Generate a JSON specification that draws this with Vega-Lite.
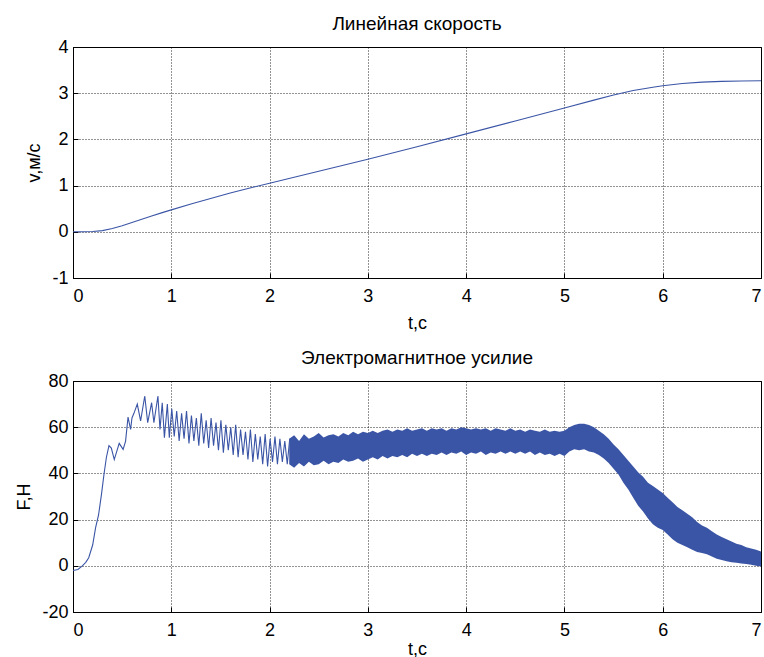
{
  "$schema": "https://vega.github.io/schema/vega-lite/v6.json",
  "padding": {"left": 15, "top": 14, "right": 0, "bottom": 0},
  "background": "white",
  "spacing": 103,
  "bounds": "flush",
  "config": {
    "font": "Liberation Sans",
    "view": {"stroke": "#000", "strokeWidth": 1},
    "axis": {
      "domainColor": "#000",
      "tickColor": "#000",
      "tickSize": -5,
      "labelColor": "#000",
      "labelFontSize": 18,
      "labelFont": "Liberation Sans",
      "titleFont": "Liberation Sans",
      "titleFontSize": 18,
      "titleFontWeight": "normal",
      "titleColor": "#000",
      "gridColor": "#000",
      "gridDash": [1, 2],
      "gridOpacity": 0.85,
      "labelExpr": "'' + datum.value"
    },
    "axisX": {"labelPadding": 14},
    "axisY": {"labelPadding": 10, "titlePadding": 8},
    "title": {"font": "Liberation Sans", "fontSize": 19, "fontWeight": "normal", "color": "#000", "offset": 4, "frame": "group"}
  },
  "datasets": {
    "v": [
      {"t": 0, "v": 0}, {"t": 0.1, "v": 0}, {"t": 0.2, "v": 0.005}, {"t": 0.3, "v": 0.025},
      {"t": 0.4, "v": 0.07}, {"t": 0.5, "v": 0.13}, {"t": 0.6, "v": 0.2}, {"t": 0.7, "v": 0.27},
      {"t": 0.8, "v": 0.34}, {"t": 0.9, "v": 0.41}, {"t": 1.0, "v": 0.475}, {"t": 1.2, "v": 0.6},
      {"t": 1.4, "v": 0.72}, {"t": 1.6, "v": 0.84}, {"t": 1.8, "v": 0.95}, {"t": 2.0, "v": 1.05},
      {"t": 2.5, "v": 1.31}, {"t": 3.0, "v": 1.57}, {"t": 3.5, "v": 1.84}, {"t": 4.0, "v": 2.12},
      {"t": 4.5, "v": 2.4}, {"t": 5.0, "v": 2.68}, {"t": 5.3, "v": 2.85}, {"t": 5.5, "v": 2.96},
      {"t": 5.7, "v": 3.06}, {"t": 5.9, "v": 3.13}, {"t": 6.0, "v": 3.16}, {"t": 6.2, "v": 3.21},
      {"t": 6.4, "v": 3.24}, {"t": 6.6, "v": 3.255}, {"t": 6.8, "v": 3.265}, {"t": 7.0, "v": 3.27}
    ],
    "f": [
      {"t": 0, "f": -2}, {"t": 0.05, "f": -1.6}, {"t": 0.095, "f": 0}, {"t": 0.13, "f": 1.5},
      {"t": 0.16, "f": 3.5}, {"t": 0.2, "f": 9}, {"t": 0.23, "f": 16.5}, {"t": 0.26, "f": 22},
      {"t": 0.29, "f": 31}, {"t": 0.315, "f": 39.5}, {"t": 0.34, "f": 47}, {"t": 0.366, "f": 52},
      {"t": 0.39, "f": 51}, {"t": 0.42, "f": 46}, {"t": 0.47, "f": 53}, {"t": 0.51, "f": 50.4},
      {"t": 0.535, "f": 54}, {"t": 0.56, "f": 64.4}, {"t": 0.586, "f": 59}, {"t": 0.6, "f": 64},
      {"t": 0.62, "f": 66}, {"t": 0.654, "f": 70}, {"t": 0.688, "f": 62.7}, {"t": 0.73, "f": 73.5},
      {"t": 0.76, "f": 62}, {"t": 0.8, "f": 70.6}, {"t": 0.823, "f": 62}, {"t": 0.864, "f": 73.5},
      {"t": 0.885, "f": 59}, {"t": 0.908, "f": 70.6}, {"t": 0.93, "f": 55.5}, {"t": 0.96, "f": 70},
      {"t": 0.98, "f": 55.5}, {"t": 1.005, "f": 68}, {"t": 1.03, "f": 56}, {"t": 1.055, "f": 67},
      {"t": 1.08, "f": 54}, {"t": 1.105, "f": 66}, {"t": 1.13, "f": 55}, {"t": 1.155, "f": 67},
      {"t": 1.18, "f": 53}, {"t": 1.205, "f": 65}, {"t": 1.23, "f": 54}, {"t": 1.255, "f": 64},
      {"t": 1.28, "f": 52}, {"t": 1.305, "f": 66}, {"t": 1.33, "f": 53}, {"t": 1.355, "f": 63},
      {"t": 1.38, "f": 51}, {"t": 1.405, "f": 64}, {"t": 1.43, "f": 52}, {"t": 1.455, "f": 62},
      {"t": 1.48, "f": 50}, {"t": 1.505, "f": 63}, {"t": 1.53, "f": 49}, {"t": 1.555, "f": 61},
      {"t": 1.58, "f": 50}, {"t": 1.605, "f": 60}, {"t": 1.63, "f": 48}, {"t": 1.655, "f": 61},
      {"t": 1.68, "f": 47}, {"t": 1.705, "f": 59}, {"t": 1.73, "f": 48}, {"t": 1.755, "f": 58},
      {"t": 1.78, "f": 46}, {"t": 1.805, "f": 59}, {"t": 1.83, "f": 45}, {"t": 1.855, "f": 57},
      {"t": 1.88, "f": 46}, {"t": 1.905, "f": 56}, {"t": 1.93, "f": 44}, {"t": 1.955, "f": 57},
      {"t": 1.98, "f": 43}, {"t": 2.005, "f": 55}, {"t": 2.03, "f": 45}, {"t": 2.055, "f": 56},
      {"t": 2.08, "f": 44}, {"t": 2.105, "f": 55}, {"t": 2.13, "f": 45}, {"t": 2.155, "f": 54},
      {"t": 2.18, "f": 44}, {"t": 2.205, "f": 55}
    ],
    "band": [
      {"t": 2.2, "lo": 44, "hi": 55}, {"t": 2.25, "lo": 42.5, "hi": 56.5}, {"t": 2.3, "lo": 44.5, "hi": 54},
      {"t": 2.35, "lo": 43, "hi": 57}, {"t": 2.4, "lo": 45, "hi": 55}, {"t": 2.45, "lo": 43.5, "hi": 56},
      {"t": 2.5, "lo": 44, "hi": 57.5}, {"t": 2.55, "lo": 45.5, "hi": 55.5}, {"t": 2.6, "lo": 44, "hi": 56.5},
      {"t": 2.65, "lo": 45, "hi": 57}, {"t": 2.7, "lo": 44.5, "hi": 56}, {"t": 2.75, "lo": 46, "hi": 57.5},
      {"t": 2.8, "lo": 45, "hi": 56.5}, {"t": 2.85, "lo": 45.5, "hi": 58}, {"t": 2.9, "lo": 46.5, "hi": 57},
      {"t": 2.95, "lo": 45, "hi": 58}, {"t": 3.0, "lo": 46, "hi": 57.5}, {"t": 3.05, "lo": 47, "hi": 58.5},
      {"t": 3.1, "lo": 46, "hi": 57.5}, {"t": 3.15, "lo": 47.5, "hi": 58.5}, {"t": 3.2, "lo": 46.5, "hi": 59},
      {"t": 3.25, "lo": 47.5, "hi": 58}, {"t": 3.3, "lo": 47, "hi": 59}, {"t": 3.35, "lo": 48, "hi": 58.5},
      {"t": 3.4, "lo": 47, "hi": 59.5}, {"t": 3.45, "lo": 48.5, "hi": 58.5}, {"t": 3.5, "lo": 47.5, "hi": 59},
      {"t": 3.55, "lo": 48.5, "hi": 59.5}, {"t": 3.6, "lo": 47.5, "hi": 58.5}, {"t": 3.65, "lo": 48.5, "hi": 59.5},
      {"t": 3.7, "lo": 48, "hi": 59}, {"t": 3.75, "lo": 49, "hi": 59.5}, {"t": 3.8, "lo": 48, "hi": 58.5},
      {"t": 3.85, "lo": 49, "hi": 59.5}, {"t": 3.9, "lo": 48.5, "hi": 59}, {"t": 3.95, "lo": 49.5, "hi": 60},
      {"t": 4.0, "lo": 48, "hi": 59.5}, {"t": 4.05, "lo": 49, "hi": 59}, {"t": 4.1, "lo": 48.5, "hi": 59.5},
      {"t": 4.15, "lo": 49.5, "hi": 59}, {"t": 4.2, "lo": 48, "hi": 59.5}, {"t": 4.25, "lo": 49, "hi": 58.5},
      {"t": 4.3, "lo": 48.5, "hi": 59.5}, {"t": 4.35, "lo": 49.5, "hi": 59}, {"t": 4.4, "lo": 48.5, "hi": 58.5},
      {"t": 4.45, "lo": 49.5, "hi": 59.5}, {"t": 4.5, "lo": 48.5, "hi": 58.5}, {"t": 4.55, "lo": 49.5, "hi": 59},
      {"t": 4.6, "lo": 48.5, "hi": 58}, {"t": 4.65, "lo": 49.5, "hi": 59}, {"t": 4.7, "lo": 48, "hi": 58.5},
      {"t": 4.75, "lo": 49, "hi": 58}, {"t": 4.8, "lo": 48, "hi": 59}, {"t": 4.85, "lo": 48.5, "hi": 58},
      {"t": 4.9, "lo": 47.5, "hi": 58.5}, {"t": 4.95, "lo": 48.5, "hi": 58}, {"t": 5.0, "lo": 47.5, "hi": 58.5},
      {"t": 5.05, "lo": 49.5, "hi": 60}, {"t": 5.1, "lo": 50.5, "hi": 61}, {"t": 5.15, "lo": 50, "hi": 61.5},
      {"t": 5.2, "lo": 50.5, "hi": 61.5}, {"t": 5.25, "lo": 49.5, "hi": 61}, {"t": 5.3, "lo": 49, "hi": 60},
      {"t": 5.35, "lo": 48, "hi": 58.5}, {"t": 5.4, "lo": 46.5, "hi": 57}, {"t": 5.45, "lo": 44.5, "hi": 55},
      {"t": 5.5, "lo": 42, "hi": 52.5}, {"t": 5.55, "lo": 39.5, "hi": 50.5}, {"t": 5.6, "lo": 36, "hi": 48},
      {"t": 5.65, "lo": 33, "hi": 45.5}, {"t": 5.7, "lo": 29.5, "hi": 43}, {"t": 5.75, "lo": 26, "hi": 40.5},
      {"t": 5.8, "lo": 23.5, "hi": 38.5}, {"t": 5.85, "lo": 20.5, "hi": 36}, {"t": 5.9, "lo": 18, "hi": 34.5},
      {"t": 5.95, "lo": 16.5, "hi": 33}, {"t": 6.0, "lo": 15.5, "hi": 31.5}, {"t": 6.05, "lo": 13.5, "hi": 29.5},
      {"t": 6.1, "lo": 11.5, "hi": 27.5}, {"t": 6.15, "lo": 10, "hi": 25.5}, {"t": 6.2, "lo": 9, "hi": 24},
      {"t": 6.25, "lo": 8, "hi": 22.5}, {"t": 6.3, "lo": 7, "hi": 21}, {"t": 6.35, "lo": 6, "hi": 19},
      {"t": 6.4, "lo": 5.5, "hi": 17.5}, {"t": 6.45, "lo": 5, "hi": 16.5}, {"t": 6.5, "lo": 4, "hi": 15},
      {"t": 6.55, "lo": 3, "hi": 13.5}, {"t": 6.6, "lo": 2.5, "hi": 12.5}, {"t": 6.65, "lo": 2, "hi": 11.5},
      {"t": 6.7, "lo": 1.5, "hi": 10.5}, {"t": 6.75, "lo": 1.3, "hi": 9.5}, {"t": 6.8, "lo": 1, "hi": 9},
      {"t": 6.85, "lo": 0.8, "hi": 8}, {"t": 6.9, "lo": 0.5, "hi": 7.5}, {"t": 6.95, "lo": 0, "hi": 7},
      {"t": 7.0, "lo": -0.3, "hi": 6.2}
    ]
  },
  "vconcat": [
    {
      "width": 688,
      "height": 231,
      "title": "Линейная скорость",
      "data": {"name": "v"},
      "mark": {"type": "line", "color": "#3b55a6", "strokeWidth": 1.1},
      "encoding": {
        "x": {"field": "t", "type": "quantitative", "scale": {"domain": [0, 7], "nice": false}, "axis": {"values": [0, 1, 2, 3, 4, 5, 6, 7], "title": "t,с", "titlePadding": 9}},
        "y": {"field": "v", "type": "quantitative", "scale": {"domain": [-1, 4], "nice": false, "zero": false}, "axis": {"values": [-1, 0, 1, 2, 3, 4], "title": "v,м/с"}}
      }
    },
    {
      "width": 688,
      "height": 231,
      "title": "Электромагнитное усилие",
      "encoding": {
        "x": {"field": "t", "type": "quantitative", "scale": {"domain": [0, 7], "nice": false}, "axis": {"values": [0, 1, 2, 3, 4, 5, 6, 7], "title": "t,с", "titlePadding": 1}}
      },
      "layer": [
        {
          "data": {"name": "band"},
          "mark": {"type": "area", "color": "#3b55a6", "opacity": 1, "line": false},
          "encoding": {
            "y": {"field": "lo", "type": "quantitative", "scale": {"domain": [-20, 80], "nice": false, "zero": false}, "axis": {"values": [-20, 0, 20, 40, 60, 80], "title": "F,H"}},
            "y2": {"field": "hi"}
          }
        },
        {
          "data": {"name": "f"},
          "mark": {"type": "line", "color": "#3b55a6", "strokeWidth": 1.1},
          "encoding": {
            "y": {"field": "f", "type": "quantitative"}
          }
        }
      ]
    }
  ]
}
